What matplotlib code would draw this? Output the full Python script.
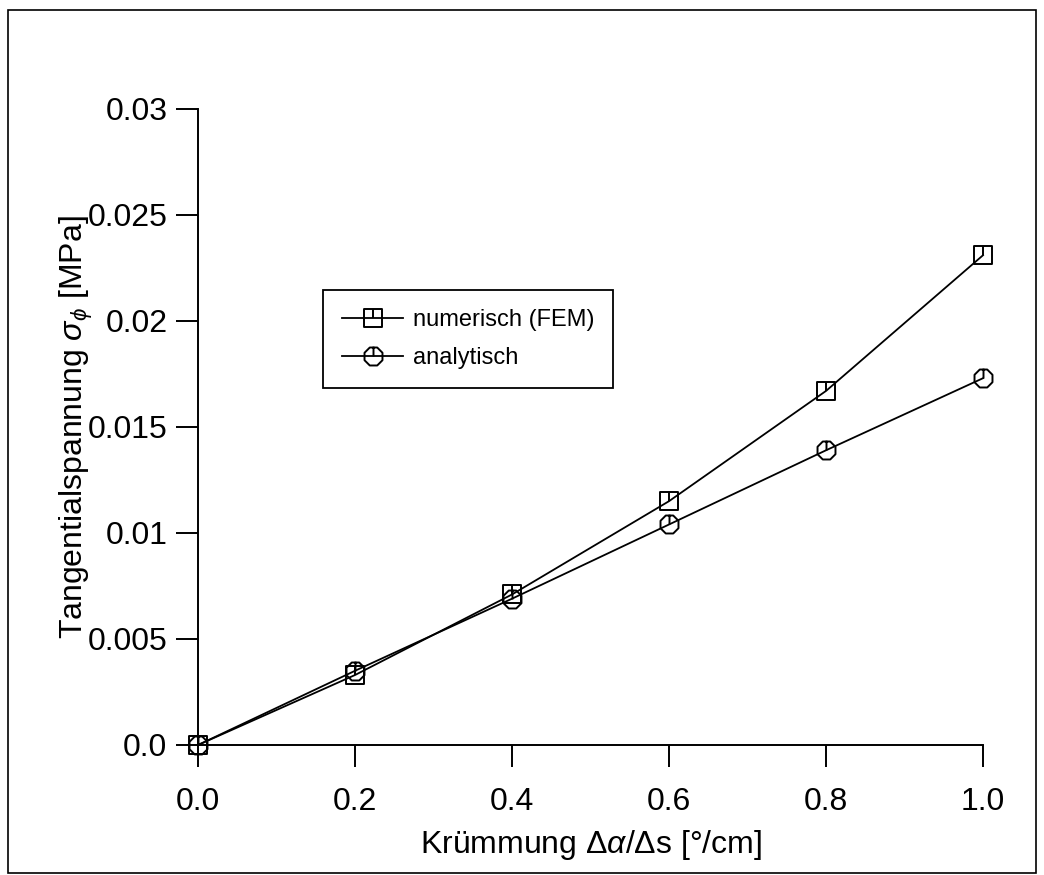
import numpy as np
import matplotlib
matplotlib.use("Agg")
import matplotlib.pyplot as plt
from matplotlib.path import Path
from matplotlib.patches import Rectangle

plt.rcParams['font.family'] = ['Liberation Sans', 'DejaVu Sans']
plt.rcParams['mathtext.fontset'] = 'custom'
plt.rcParams['mathtext.rm'] = 'Liberation Sans'
plt.rcParams['mathtext.it'] = 'Liberation Sans:italic'

# data
kruemmung = [0.0, 0.2, 0.4, 0.6, 0.8, 1.0]
fem = [0.0, 0.0033, 0.0071, 0.0115, 0.0167, 0.0231]
analytisch = [0.0, 0.0035, 0.0069, 0.0104, 0.0139, 0.0173]

xticks = [0.0, 0.2, 0.4, 0.6, 0.8, 1.0]
xticklabels = ["0.0", "0.2", "0.4", "0.6", "0.8", "1.0"]
yticks = [0.0, 0.005, 0.01, 0.015, 0.02, 0.025, 0.03]
yticklabels = ["0.0", "0.005", "0.01", "0.015", "0.02", "0.025", "0.03"]

# markers: open square / octagon with a half vertical stroke (as in the scan)
sq = Path([(-1, -1), (1, -1), (1, 1), (-1, 1), (-1, -1), (0, 0), (0, 1)],
          [Path.MOVETO, Path.LINETO, Path.LINETO, Path.LINETO, Path.CLOSEPOLY,
           Path.MOVETO, Path.LINETO])
ang = np.pi / 8 + np.arange(8) * np.pi / 4
oct_v = [(np.cos(a), np.sin(a)) for a in ang]
oc = Path(oct_v + [oct_v[0], (0, 0), (0, 1)],
          [Path.MOVETO] + [Path.LINETO] * 7 + [Path.CLOSEPOLY, Path.MOVETO, Path.LINETO])

fig = plt.figure(figsize=(10.44, 8.75), dpi=100)
ax = fig.add_axes([0.1897, 0.1486, 0.7519, 0.7269])

ax.plot(kruemmung, fem, color='black', lw=1.3, marker=sq, ms=13, mfc='none',
        mec='black', mew=1.4, label='numerisch (FEM)', clip_on=False)
ax.plot(kruemmung, analytisch, color='black', lw=1.3, marker=oc, ms=14, mfc='none',
        mec='black', mew=1.4, label='analytisch', clip_on=False)

ax.set_xlim(0, 1)
ax.set_ylim(0, 0.03)
ax.set_xticks(xticks)
ax.set_xticklabels(xticklabels)
ax.set_yticks(yticks)
ax.set_yticklabels(yticklabels)
ax.tick_params(direction='out', length=16, width=1.4, labelsize=23, pad=6)
ax.tick_params(axis='x', pad=14)

for s in ['top', 'right']:
    ax.spines[s].set_visible(False)
for s in ['left', 'bottom']:
    ax.spines[s].set_linewidth(1.4)

ax.set_xlabel(r'Krümmung $\Delta\alpha/\Delta$s [°/cm]', fontsize=23, labelpad=8)
ax.set_ylabel(r'Tangentialspannung $\sigma_\phi$ [MPa]', fontsize=23, labelpad=-5)

leg = ax.legend(loc='upper left', bbox_to_anchor=(323 / 1044, 1 - 290 / 875),
                bbox_transform=fig.transFigure, borderaxespad=0, fontsize=17,
                fancybox=False, framealpha=1, edgecolor='black',
                handlelength=2.6, handletextpad=0.4, labelspacing=0.7,
                borderpad=0.8)
leg.get_frame().set_linewidth(1.3)

# scanned page frame
fig.patches.append(Rectangle((8 / 1044, 2 / 875), 1028 / 1044, 863 / 875,
                             transform=fig.transFigure, fill=False,
                             edgecolor='black', lw=1.2))

fig.savefig('out.png', dpi=100)
